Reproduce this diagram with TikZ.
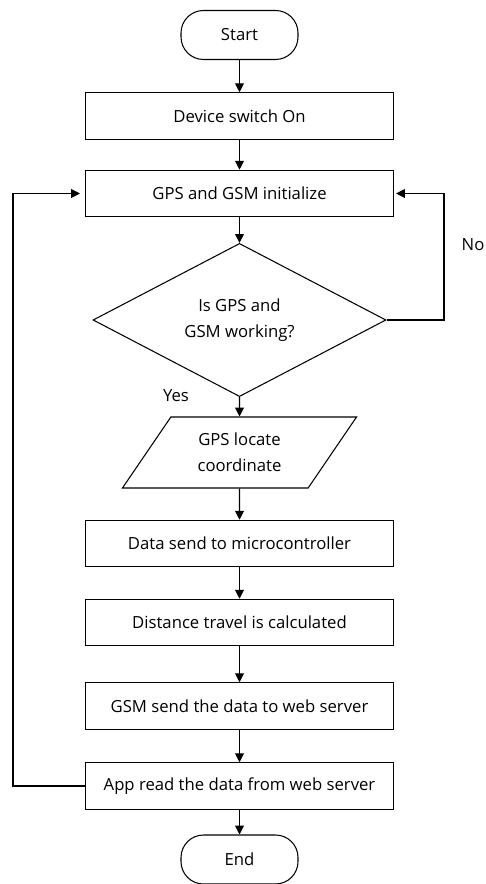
\documentclass[tikz,border=0pt]{standalone}
\usepackage{fontspec}
\setmainfont{Open Sans}
\usetikzlibrary{shapes.geometric, arrows.meta, positioning, calc}

\begin{document}
\begin{tikzpicture}[
  every node/.style={font=\fontsize{9.5}{15}\selectfont},
  flowline/.style={line width=0.6pt, -{Triangle[length=5pt, width=5pt]}},
  terminal/.style={draw, line width=0.6pt, rounded corners=0.45cm,
    minimum width=2.34cm, minimum height=0.98cm},
  process/.style={draw, line width=0.6pt, minimum width=6.16cm, minimum height=0.93cm},
  decision/.style={draw, diamond, line width=0.6pt, inner sep=0pt, align=center,
    minimum width=5.86cm, minimum height=2.78cm},
  inout/.style={draw, trapezium, trapezium left angle=56.5, trapezium right angle=123.5,
    trapezium stretches=true, line width=0.6pt, align=center,
    minimum width=4.72cm, minimum height=1.42cm}
]
  \useasboundingbox (0,0) rectangle (9.70,-17.68);
  \def\cx{4.79}

  % Main column
  \node[terminal] (start) at (\cx,-0.70) {Start};
  \node[process]  (switchon) at (\cx,-2.32) {Device switch On};
  \node[process]  (init) at (\cx,-3.87) {GPS and GSM initialize};
  \node[decision] (check) at (\cx,-6.40) {Is GPS and\\GSM working?};
  \node[inout]    (locate) at (\cx,-9.05) {GPS locate\\coordinate};
  \node[process]  (tomcu) at (\cx,-10.87) {Data send to microcontroller};
  \node[process]  (distance) at (\cx,-12.45) {Distance travel is calculated};
  \node[process]  (toserver) at (\cx,-14.12) {GSM send the data to web server};
  \node[process]  (appread) at (\cx,-15.72) {App read the data from web server};
  \node[terminal] (stop) at (\cx,-17.19) {End};

  % Labels
  \node (yes) at (3.52,-7.92) {Yes};
  \node (no) at (9.46,-4.90) {No};

  % Flow arrows
  \draw[flowline] (start) -- (switchon);
  \draw[flowline] (switchon) -- (init);
  \draw[flowline] (init) -- (check);
  \draw[flowline] (check) -- (locate);
  \draw[flowline] (locate) -- (tomcu);
  \draw[flowline] (tomcu) -- (distance);
  \draw[flowline] (distance) -- (toserver);
  \draw[flowline] (toserver) -- (appread);
  \draw[flowline] (appread) -- (stop);

  % Loops back to initialization
  \coordinate (leftrail) at (0.26,0);
  \coordinate (rightrail) at (8.88,0);
  \draw[flowline, shorten >=0.1cm] (appread.west) -| (leftrail |- init) -- (init.west);
  \draw[flowline, shorten >=0.04cm] (check.east) -| (rightrail |- init) -- (init.east);
\end{tikzpicture}
\end{document}
